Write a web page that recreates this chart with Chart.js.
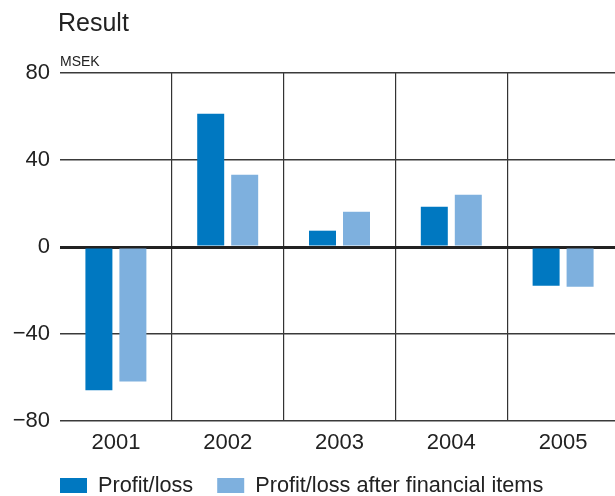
<!DOCTYPE html>
<html>
<head>
<meta charset="utf-8">
<script src="https://cdn.jsdelivr.net/npm/chart.js@4/dist/chart.umd.min.js"></script>
<style>
  html, body { margin: 0; padding: 0; background: #fff; overflow: hidden; }
  #wrap { position: relative; width: 615px; height: 496px; overflow: hidden; }
  #c { display: block; }
</style>
</head>
<body>
<div id="wrap"><canvas id="c" width="619" height="496"></canvas></div>
<script>
const chartTitle = "Result";
const unitLabel = "MSEK";
const categories = ["2001", "2002", "2003", "2004", "2005"];
const seriesNames = ["Profit/loss", "Profit/loss after financial items"];
const profitLoss = [-65.9, 61.3, 7.5, 18.5, -17.8];
const profitLossAfterFinancial = [-61.8, 33.2, 16.2, 24.0, -18.3];
const yTicks = [-80, -40, 0, 40, 80];

const colors = ["#0078C1", "#7EB0DE"];
const FONT = "'Liberation Sans', Arial, sans-serif";
const TEXT = "#222222";

const decor = {
  id: "decor",
  afterDraw(chart) {
    const ctx = chart.ctx;
    const a = chart.chartArea;
    ctx.save();
    ctx.fillStyle = TEXT;
    ctx.textAlign = "left";
    ctx.textBaseline = "alphabetic";
    ctx.font = "25px " + FONT;
    ctx.fillText(chartTitle, a.left - 2, 31);
    ctx.font = "14px " + FONT;
    ctx.fillText(unitLabel, a.left, 66);
    // legend
    ctx.font = "21.7px " + FONT;
    ctx.textBaseline = "middle";
    let x = a.left;
    const boxW = 27, boxH = 15, boxTop = 478;
    chart.data.datasets.forEach((ds) => {
      ctx.fillStyle = ds.backgroundColor;
      ctx.fillRect(x, boxTop, boxW, boxH);
      ctx.fillStyle = TEXT;
      const tx = x + boxW + 11;
      ctx.fillText(ds.label, tx, boxTop + boxH / 2 + 1);
      x = tx + ctx.measureText(ds.label).width + 24;
    });
    ctx.restore();
  }
};

new Chart(document.getElementById("c"), {
  type: "bar",
  data: {
    labels: categories,
    datasets: [
      { label: seriesNames[0], data: profitLoss, backgroundColor: colors[0] },
      { label: seriesNames[1], data: profitLossAfterFinancial, backgroundColor: colors[1] }
    ]
  },
  options: {
    responsive: false,
    animation: false,
    devicePixelRatio: 1,
    layout: { padding: { top: 73, left: 0, right: 0, bottom: 0 } },
    datasets: { bar: { categoryPercentage: 0.608, barPercentage: 0.794 } },
    plugins: {
      legend: { display: false },
      title: { display: false },
      tooltip: { enabled: false }
    },
    scales: {
      x: {
        offset: true,
        border: { display: false },
        grid: {
          offset: true,
          drawTicks: false,
          lineWidth: 1.2,
          color: (c) => (c.index === 0 || c.index === categories.length) ? "rgba(0,0,0,0)" : "#333333"
        },
        ticks: { color: TEXT, font: { family: FONT, size: 22 }, padding: 9 },
        afterFit: (s) => { s.height = 75; }
      },
      y: {
        min: yTicks[0],
        max: yTicks[yTicks.length - 1],
        border: { display: false },
        afterBuildTicks: (s) => { s.ticks = yTicks.map(v => ({ value: v })); },
        grid: {
          drawTicks: false,
          color: (c) => c.tick && c.tick.value === 0 ? "#222222" : "#3a3a3a",
          lineWidth: (c) => c.tick && c.tick.value === 0 ? 3 : 1.5
        },
        ticks: {
          color: TEXT,
          font: { family: FONT, size: 22 },
          padding: 10,
          callback: (v) => String(v).replace("-", "\u2212")
        },
        afterFit: (s) => { s.width = 60; }
      }
    }
  },
  plugins: [decor]
});
</script>
</body>
</html>
